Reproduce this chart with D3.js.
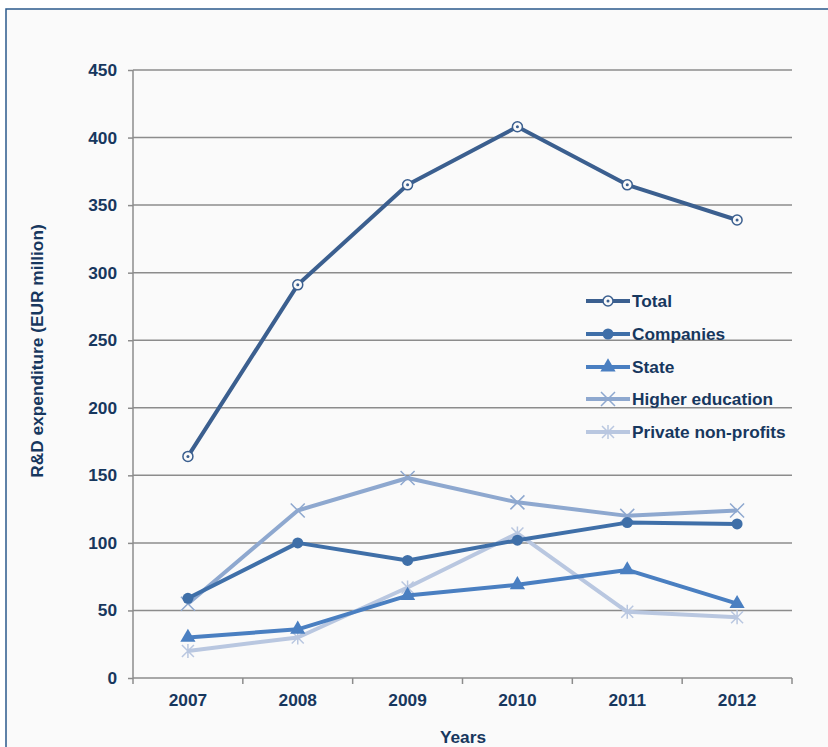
<!DOCTYPE html>
<html>
<head>
<meta charset="utf-8">
<script src="https://cdn.jsdelivr.net/npm/d3@7"></script>
<style>
  body { margin: 0; background: #fff; }
  text { font-family: "Liberation Sans", Arial, sans-serif; font-weight: bold; fill: #17375e; }
</style>
</head>
<body>
<div id="chart"></div>
<script>
'use strict'

const years = ['2007', '2008', '2009', '2010', '2011', '2012']
const yTicks = [0, 50, 100, 150, 200, 250, 300, 350, 400, 450]
const seriesNames = ['Total', 'Companies', 'State', 'Higher education', 'Private non-profits']
const total = [164, 291, 365, 408, 365, 339]
const companies = [59, 100, 87, 102, 115, 114]
const state = [30, 36, 61, 69, 80, 55]
const higherEducation = [55, 124, 148, 130, 120, 124]
const privateNonProfits = [20, 30, 67, 107, 49, 45]

const seriesValues = [total, companies, state, higherEducation, privateNonProfits]
const colors = ['#3b5f8f', '#3f6fa8', '#4a7fc1', '#8ea8cf', '#b9c7e0']
const markers = ['ring', 'dot', 'triangle', 'cross', 'star']

const width = 828
const height = 747
const margin = { left: 133, right: 36, top: 70, bottom: 69 }
const fontSize = '17.3px'

const svg = d3.select('#chart')
  .append('svg')
  .attr('width', width)
  .attr('height', height)

// frame
svg.append('rect')
  .attr('x', 6).attr('y', 9)
  .attr('width', 840).attr('height', 760)
  .attr('fill', '#fafafa')
  .attr('stroke', '#2b5a8c')
  .attr('stroke-width', 1.5)

const x = d3.scaleBand()
  .domain(years)
  .range([margin.left, width - margin.right])

const y = d3.scaleLinear()
  .domain([0, 450])
  .range([height - margin.bottom, margin.top])

const cx = d => x(d) + x.bandwidth() / 2

// gridlines
svg.append('g')
  .selectAll('line')
  .data(yTicks.slice(1))
  .enter()
  .append('line')
  .attr('x1', margin.left)
  .attr('x2', width - margin.right)
  .attr('y1', d => y(d))
  .attr('y2', d => y(d))
  .attr('stroke', '#8c8c8c')
  .attr('stroke-width', 1.5)

// y axis
const yAxis = svg.append('g')
  .attr('transform', 'translate(' + margin.left + ',0)')
  .call(d3.axisLeft(y).tickValues(yTicks).tickSize(5).tickPadding(11))
yAxis.selectAll('line, path').attr('stroke', '#8c8c8c').attr('stroke-width', 1.5)
yAxis.select('.domain').attr('d', 'M0,' + y(0) + 'V' + y(450))
yAxis.selectAll('text')
  .style('font-size', fontSize)
  .style('font-family', '"Liberation Sans", Arial, sans-serif')
  .attr('fill', '#17375e')

// x axis
const xTickPos = years.map(d => x(d)).concat([width - margin.right])
const xAxis = svg.append('g')
  .attr('transform', 'translate(0,' + y(0) + ')')
xAxis.append('line')
  .attr('x1', margin.left).attr('x2', width - margin.right)
  .attr('stroke', '#8c8c8c').attr('stroke-width', 1.5)
xAxis.selectAll('.tk')
  .data(xTickPos)
  .enter()
  .append('line')
  .attr('x1', d => d).attr('x2', d => d)
  .attr('y1', 0).attr('y2', 6)
  .attr('stroke', '#8c8c8c').attr('stroke-width', 1.5)
xAxis.selectAll('text')
  .data(years)
  .enter()
  .append('text')
  .attr('x', d => cx(d))
  .attr('y', 28)
  .attr('text-anchor', 'middle')
  .style('font-size', fontSize)
  .text(d => d)

// axis titles
svg.append('text')
  .attr('x', 463).attr('y', 743)
  .attr('text-anchor', 'middle')
  .style('font-size', fontSize)
  .text('Years')

svg.append('text')
  .attr('transform', 'translate(43,351) rotate(-90)')
  .attr('text-anchor', 'middle')
  .style('font-size', fontSize)
  .text('R&D expenditure (EUR million)')

const drawMarker = function(g, type, color, px, py) {
  if (type === 'ring') {
    g.append('circle').attr('cx', px).attr('cy', py).attr('r', 5)
      .attr('fill', '#fafafa').attr('stroke', color).attr('stroke-width', 1.5)
    g.append('circle').attr('cx', px).attr('cy', py).attr('r', 1.5).attr('fill', color)
  } else if (type === 'dot') {
    g.append('circle').attr('cx', px).attr('cy', py).attr('r', 5.5).attr('fill', color)
  } else if (type === 'triangle') {
    g.append('path')
      .attr('d', d3.symbol().type(d3.symbolTriangle).size(100)())
      .attr('transform', 'translate(' + px + ',' + py + ')')
      .attr('fill', color)
  } else if (type === 'cross') {
    g.append('path')
      .attr('d', 'M-7,-7L7,7M-7,7L7,-7')
      .attr('transform', 'translate(' + px + ',' + py + ')')
      .attr('stroke', color).attr('stroke-width', 1.5).attr('fill', 'none')
  } else {
    g.append('path')
      .attr('d', 'M-6,-6L6,6M-6,6L6,-6M0,-7V7')
      .attr('transform', 'translate(' + px + ',' + py + ')')
      .attr('stroke', color).attr('stroke-width', 1.5).attr('fill', 'none')
  }
}

const line = d3.line()
  .x((d, i) => cx(years[i]))
  .y(d => y(d))

// draw series back to front so Total sits on top
for (let s = seriesValues.length - 1; s >= 0; s--) {
  const g = svg.append('g')
  g.append('path')
    .attr('d', line(seriesValues[s]))
    .attr('fill', 'none')
    .attr('stroke', colors[s])
    .attr('stroke-width', 4)
    .attr('stroke-linejoin', 'round')
  seriesValues[s].forEach(function(v, i) {
    drawMarker(g, markers[s], colors[s], cx(years[i]), y(v))
  })
}

// legend
const legendY = [301, 334, 367, 399, 432]
seriesNames.forEach(function(name, i) {
  const g = svg.append('g')
  g.append('line')
    .attr('x1', 586).attr('x2', 630)
    .attr('y1', legendY[i]).attr('y2', legendY[i])
    .attr('stroke', colors[i]).attr('stroke-width', 4)
  drawMarker(g, markers[i], colors[i], 608, legendY[i])
  g.append('text')
    .attr('x', 632).attr('y', legendY[i] + 6)
    .style('font-size', fontSize)
    .text(name)
})
</script>
</body>
</html>
